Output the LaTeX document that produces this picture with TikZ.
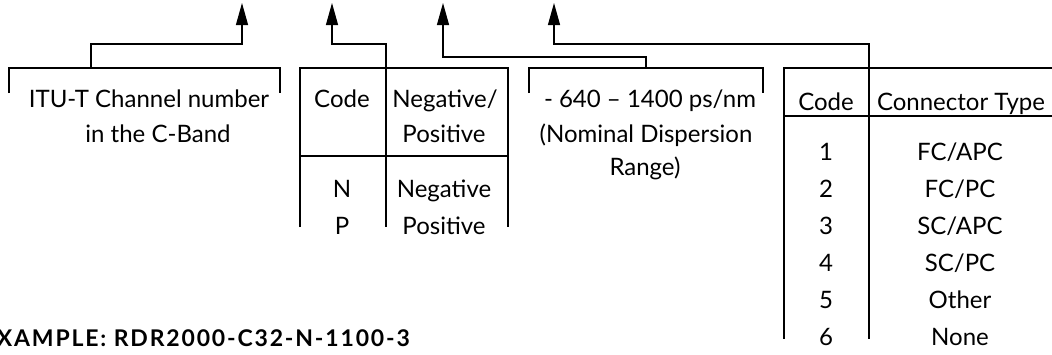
\documentclass[tikz,border=0pt]{standalone}
\usepackage{fontspec}
\setmainfont{Lato}
\usetikzlibrary{arrows.meta}
\begin{document}
\begin{tikzpicture}[x=1pt,y=-1pt,
  ln/.style={line width=1.2pt},
  arr/.style={line width=1.2pt,-{Triangle[length=22pt,width=12pt]}},
  txt/.style={anchor=base,inner sep=0pt,font=\fontsize{24}{28}\selectfont},
  boldtxt/.style={anchor=base east,inner sep=0pt,font=\fontsize{23}{28}\selectfont\bfseries\addfontfeature{LetterSpace=8}}]
\useasboundingbox (0,0) rectangle (1052,354);
% arrow tips and levels
\coordinate (t1) at (242,3);
\coordinate (t2) at (332,3);
\coordinate (t3) at (443,3);
\coordinate (t4) at (554,3);
\coordinate (h1) at (0,44);
\coordinate (h3) at (0,57);
% bracket 1
\draw[ln] (9,93) -- (9,68) -- (280,68) -- (280,93);
\coordinate (b1) at (91,68);
% table 1
\draw[ln] (300,227) -- (300,68) -- (508,68) -- (508,227);
\draw[ln] (300,156) -- (508,156);
\coordinate (b2) at (386,68);
\coordinate (b2e) at (386,227);
\draw[ln] (b2) -- (b2e);
% bracket 3
\draw[ln] (529,93) -- (529,68) -- (763,68) -- (763,93);
\coordinate (b3) at (646,68);
% table 2
\draw[ln] (1052,68) -- (784,68) -- (784,339);
\draw[ln] (784,116) -- (1052,116);
\coordinate (b4) at (869,68);
\coordinate (b4e) at (869,339);
\draw[ln] (b4) -- (b4e);
% connectors
\draw[arr] (b1) -- (b1|-h1) -| (t1);
\draw[arr] (b2) -- (b2|-h1) -| (t2);
\draw[arr] (b3) -- (b3|-h3) -| (t3);
\draw[arr] (b4) -- (b4|-h1) -| (t4);
% texts bracket 1
\node[txt] (itu1) at (149,107) {ITU-T Channel number};
\node[txt] (itu2) at (158,142) {in the C-Band};
% table 1 texts
\node[txt] (c1h) at (342,107) {Code};
\node[txt] (np1) at (445,107) {Negative/};
\node[txt] (np2) at (444,142) {Positive};
\node[txt] (c1n) at (342,197) {N};
\node[txt] (v1n) at (444,197) {Negative};
\node[txt] (c1p) at (342,234) {P};
\node[txt] (v1p) at (444,234) {Positive};
% dispersion
\node[txt] (d1) at (650,107) {- 640 – 1400 ps/nm};
\node[txt] (d2) at (646,142) {(Nominal Dispersion};
\node[txt] (d3) at (645,175) {Range)};
% table 2
\node[txt] (c2h) at (826,110) {Code};
\node[txt] (t2h) at (961,110) {Connector Type};
\node[txt] (k1) at (826,160) {1};
\node[txt] (v1) at (960,160) {FC/APC};
\node[txt] (k2) at (826,197) {2};
\node[txt] (v2) at (960,197) {FC/PC};
\node[txt] (k3) at (826,234) {3};
\node[txt] (v3) at (960,234) {SC/APC};
\node[txt] (k4) at (826,271) {4};
\node[txt] (v4) at (960,271) {SC/PC};
\node[txt] (k5) at (826,308) {5};
\node[txt] (v5) at (960,308) {Other};
\node[txt] (k6) at (826,345) {6};
\node[txt] (v6) at (960,345) {None};
% example
\node[boldtxt] (ex) at (410,346) {EXAMPLE: RDR2000-C32-N-1100-3};
\end{tikzpicture}
\end{document}
